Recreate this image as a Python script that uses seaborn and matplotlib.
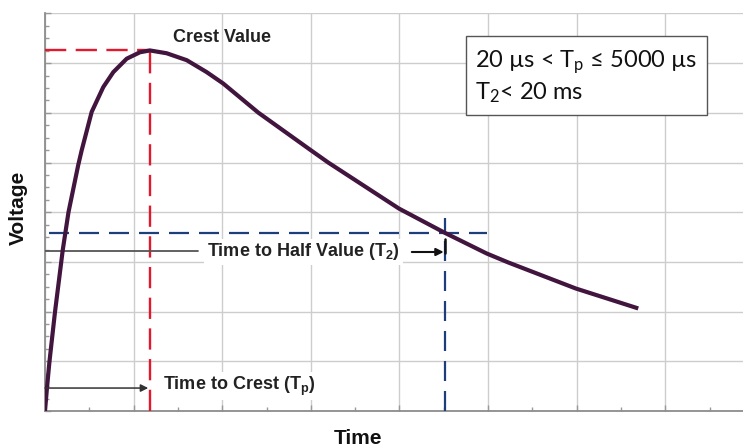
import numpy as np
import pandas as pd
import matplotlib
matplotlib.use("Agg")
import matplotlib.pyplot as plt
import seaborn as sns
from matplotlib.ticker import MultipleLocator

# ---- data (arbitrary grid units) ----
time = [0, 0.022, 0.05, 0.113, 0.200, 0.265, 0.375, 0.414, 0.527, 0.658,
        0.771, 0.922, 1.072, 1.185, 1.373, 1.60, 1.825, 2.012, 2.408, 2.991,
        3.198, 3.995, 4.515, 4.985, 5.229, 5.99, 6.696]
voltage = [0, 0.46, 0.99, 1.996, 3.236, 4.0, 4.95, 5.246, 6.02, 6.52,
           6.82, 7.09, 7.22, 7.256, 7.20, 7.06, 6.82, 6.59, 6.004, 5.26,
           4.999, 4.074, 3.584, 3.17, 2.989, 2.466, 2.064]
t_half = 4.52
v_half_line = 3.584

crest_label = "Crest Value"
half_label = r"Time to Half Value (T$\mathregular{_2}$)"
crest_time_label = r"Time to Crest (T$\mathregular{_p}$)"
box_label = "20 \u00b5s < T$\\mathregular{_p}$ \u2264 5000 \u00b5s\nT$\\mathregular{_2}$< 20 ms"

df = pd.DataFrame({"Time": time, "Voltage": voltage})

sns.set_theme(style="whitegrid")
plt.rcParams["font.family"] = ["Liberation Sans", "DejaVu Sans"]

fig = plt.figure(figsize=(7.43, 4.46), dpi=100)
ax = fig.add_axes([45 / 743, 35 / 446, 698 / 743, 398 / 446])
ax.set_facecolor("white")

sns.lineplot(data=df, x="Time", y="Voltage", ax=ax, color="#42153f",
             lw=3.0, zorder=5, sort=False, solid_capstyle="butt",
             solid_joinstyle="round")

ax.set_xlim(0, 698 / 88.6)
ax.set_ylim(0, 8.01)
ax.xaxis.set_major_locator(MultipleLocator(1))
ax.yaxis.set_major_locator(MultipleLocator(1))
ax.xaxis.set_minor_locator(MultipleLocator(0.5))
ax.yaxis.set_minor_locator(MultipleLocator(0.25))
ax.grid(True, which="major", color="#cdcdcd", lw=1.0)
ax.grid(False, which="minor")
ax.set_xticklabels([])
ax.set_yticklabels([])
ax.tick_params(which="both", direction="in", colors="#999999", width=1,
               bottom=True, left=True)
ax.tick_params(which="major", length=4)
ax.tick_params(which="minor", length=3)
ax.set_xlabel("")
ax.set_ylabel("")
for s in ["top", "right"]:
    ax.spines[s].set_visible(False)
for s in ["left", "bottom"]:
    ax.spines[s].set_color("#8c8c8c")
    ax.spines[s].set_linewidth(1.3)

# crest markers
i_pk = int(np.argmax(voltage))
t_pk, v_pk = time[i_pk], voltage[i_pk]
red = "#e3182d"
ax.plot([0, t_pk], [v_pk, v_pk], color=red, lw=1.7, dashes=(9, 4), zorder=4)
ax.plot([t_pk, t_pk], [0, v_pk], color=red, lw=1.7, dashes=(9, 4), zorder=4)

# half value markers
blue = "#1c3f7c"
ax.plot([0.05, 4.985], [v_half_line, v_half_line], color=blue, lw=1.6,
        dashes=(9, 4.5), zorder=4)
ax.plot([t_half, t_half], [0, 3.88], color=blue, lw=1.6, dashes=(9, 4.5),
        zorder=4)

# labels
ax.text(2.0, 7.52, crest_label, ha="center", va="center", fontsize=13,
        fontweight="bold", color="#222222", zorder=6)

ax.plot([0, 1.727], [3.216, 3.216], color="#555555", lw=1.3, zorder=4)
ax.text(1.83, 3.20, half_label, ha="left", va="center", fontsize=13,
        fontweight="bold", color="#222222", zorder=6,
        bbox=dict(facecolor="white", edgecolor="none", pad=2))
ax.annotate("", xy=(t_half - 0.02, 3.20), xytext=(4.14, 3.20),
            arrowprops=dict(arrowstyle="-|>", color="#111111", lw=1.5,
                            mutation_scale=11, shrinkA=0, shrinkB=0), zorder=6)
ax.plot([t_half, t_half], [3.18, 3.46], color="#111111", lw=1.8, zorder=7)

ax.annotate("", xy=(t_pk - 0.02, 0.462), xytext=(0, 0.462),
            arrowprops=dict(arrowstyle="-|>", color="#333333", lw=1.1,
                            mutation_scale=11, shrinkA=0, shrinkB=0), zorder=6)
ax.text(1.33, 0.50, crest_time_label, ha="left", va="center", fontsize=13,
        fontweight="bold", color="#222222", zorder=6,
        bbox=dict(facecolor="white", edgecolor="none", pad=2))

ax.text(4.853, 6.724, box_label, ha="left", va="center", fontsize=17,
        family=["Lato", "DejaVu Sans"], color="#111111", linespacing=1.25,
        zorder=7,
        bbox=dict(boxstyle="square,pad=0.4", facecolor="white",
                  edgecolor="#555555", lw=1.0))

fig.text(18 / 743, 1 - 208 / 446, "Voltage", rotation=90, ha="center",
         va="center", fontsize=15, fontweight="bold", color="#111111")
fig.text(358 / 743, 1 - 438 / 446, "Time", ha="center", va="center",
         fontsize=15, fontweight="bold", color="#111111")

fig.savefig("out.png", dpi=100)
